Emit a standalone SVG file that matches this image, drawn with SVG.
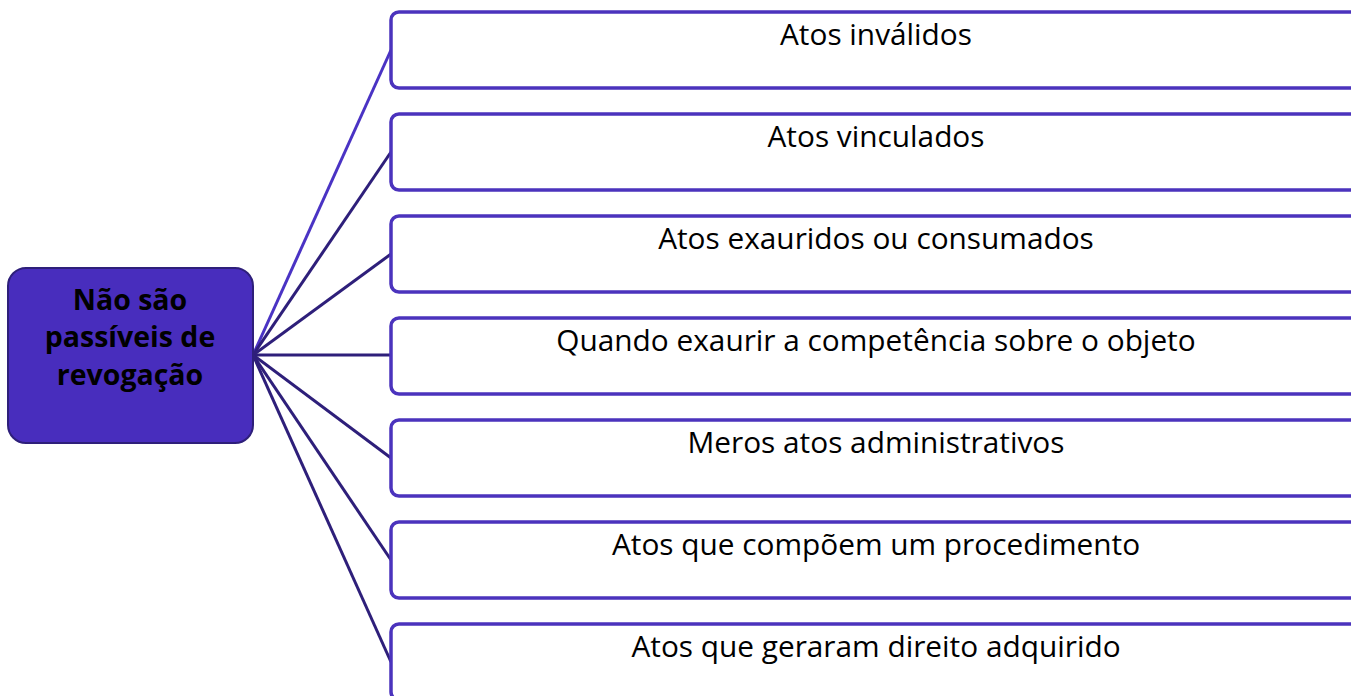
<svg xmlns="http://www.w3.org/2000/svg" width="1351" height="696" viewBox="0 0 1351 696">
<style>
.box{fill:#ffffff;stroke:#4b33bd;stroke-width:3.5}
.lbl{font-family:"Open Sans","Noto Sans",sans-serif;font-size:29.8px;fill:#000;text-anchor:middle}
.c{stroke:#2e1f7a;stroke-width:3;fill:none}
.c1{stroke:#4a33c4;stroke-width:3;fill:none}
.hub{fill:#482dbd;stroke:#2e1f7a;stroke-width:2}
.ht{font-family:"Open Sans","Noto Sans",sans-serif;font-size:28.5px;font-weight:bold;fill:#000;text-anchor:middle}
</style>
<rect width="1351" height="696" fill="#ffffff"/>
<g id="connectors">
<line class="c1" x1="253" y1="355" x2="391" y2="50"/>
<line class="c" x1="253" y1="355" x2="391" y2="152"/>
<line class="c" x1="253" y1="355" x2="391" y2="254"/>
<line class="c" x1="253" y1="355" x2="391" y2="355"/>
<line class="c" x1="253" y1="355" x2="391" y2="458"/>
<line class="c" x1="253" y1="355" x2="391" y2="560"/>
<line class="c" x1="253" y1="355" x2="391" y2="662"/>
</g>
<g id="hub">
<rect class="hub" x="8" y="268" width="245" height="175" rx="18"/>
<text class="ht" x="130" y="310">Não são</text>
<text class="ht" x="130" y="347">passíveis de</text>
<text class="ht" x="130" y="385">revogação</text>
</g>
<g id="n1"><rect class="box" x="391" y="12" width="975" height="76" rx="8"/><text class="lbl" x="876" y="45">Atos inválidos</text></g>
<g id="n2"><rect class="box" x="391" y="114" width="975" height="76" rx="8"/><text class="lbl" x="876" y="147">Atos vinculados</text></g>
<g id="n3"><rect class="box" x="391" y="216" width="975" height="76" rx="8"/><text class="lbl" x="876" y="249">Atos exauridos ou consumados</text></g>
<g id="n4"><rect class="box" x="391" y="318" width="975" height="76" rx="8"/><text class="lbl" x="876" y="351">Quando exaurir a competência sobre o objeto</text></g>
<g id="n5"><rect class="box" x="391" y="420" width="975" height="76" rx="8"/><text class="lbl" x="876" y="453">Meros atos administrativos</text></g>
<g id="n6"><rect class="box" x="391" y="522" width="975" height="76" rx="8"/><text class="lbl" x="876" y="555">Atos que compõem um procedimento</text></g>
<g id="n7"><rect class="box" x="391" y="624" width="975" height="76" rx="8"/><text class="lbl" x="876" y="657">Atos que geraram direito adquirido</text></g>
</svg>
